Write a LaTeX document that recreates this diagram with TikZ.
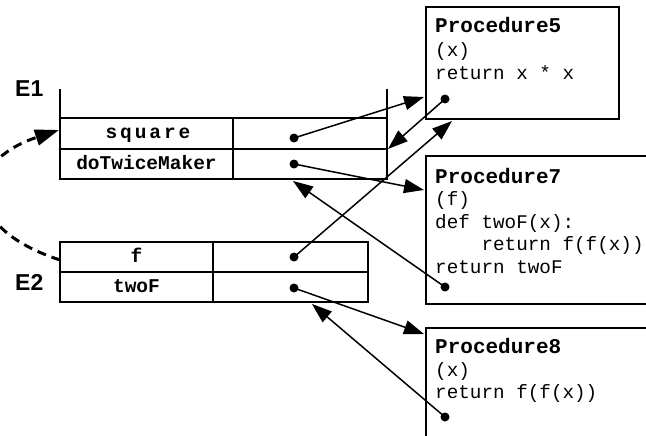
\documentclass[tikz,border=0pt]{standalone}
\usepackage{fontspec}
\setmainfont{Liberation Sans}
\newfontfamily\codefont{Liberation Mono}
\newfontfamily\codebold{Liberation Mono Bold}
\newfontfamily\codeboldwide[LetterSpace=15]{Liberation Mono Bold}
\usetikzlibrary{arrows.meta}
\begin{document}
\begin{tikzpicture}[x=1pt,y=-1pt,
  frame/.style={line width=2pt},
  ptr/.style={line width=1.5pt, -{Triangle[length=20pt,width=14pt]}},
  dashptr/.style={line width=3pt, dash pattern=on 9pt off 6pt, -{Triangle[length=24pt,width=16pt]}},
  dot/.style={circle, fill=black, inner sep=0pt, minimum size=9pt},
  lbl/.style={font={\codebold\fontsize{19.5}{23}\selectfont}, inner sep=0pt, anchor=base},
  codeline/.style={font={\codefont\fontsize{19.3}{23}\selectfont}, anchor=base west, inner sep=0pt},
  codetitle/.style={font={\codebold\fontsize{21}{23}\selectfont}, anchor=base west, inner sep=0pt},
  envlbl/.style={font={\bfseries\fontsize{23}{27}\selectfont}, inner sep=0pt, anchor=base west},
  proc/.style={draw, line width=2pt, anchor=north west, inner sep=0pt}
]
\useasboundingbox (0,0) rectangle (646,436);
\clip (0,0) rectangle (646,436);

% procedure boxes
\node[proc, minimum width=193pt, minimum height=112pt] (p5) at (425,6) {};
\node[proc, minimum width=240pt, minimum height=148pt] (p7) at (425,155) {};
\node[proc, minimum width=240pt, minimum height=140pt] (p8) at (425,327) {};

\node[codetitle] (p5t) at (435,33) {Procedure5};
\node[codeline] (p5a) at (435,57) {(x)};
\node[codeline] (p5b) at (435,80) {return x * x};

\node[codetitle] (p7t) at (435,183) {Procedure7};
\node[codeline] (p7a) at (435,205) {(f)};
\node[codeline] (p7b) at (435,228) {def twoF(x):};
\node[codeline] (p7c) at (435,250) {\phantom{xxxx}return f(f(x))};
\node[codeline] (p7d) at (435,273) {return twoF};

\node[codetitle] (p8t) at (435,353) {Procedure8};
\node[codeline] (p8a) at (435,376) {(x)};
\node[codeline] (p8b) at (435,398) {return f(f(x))};

% frame E1
\draw[frame] (60,89) -- (60,179) -- (387,179) -- (387,89);
\draw[frame] (60,118) -- (387,118);
\draw[frame] (60,149) -- (387,149);
\draw[frame] (233,118) -- (233,179);
\node[envlbl] (e1) at (15,96) {E1};
\node[lbl, font={\codeboldwide\fontsize{19.5}{23}\selectfont}] (lsq) at (148,138.5) {square};
\node[lbl] (ldt) at (146.5,169) {doTwiceMaker};

% frame E2
\draw[frame] (60,242) rectangle (368,302);
\draw[frame] (60,272) -- (368,272);
\draw[frame] (213,242) -- (213,302);
\node[envlbl] (e2) at (15,290) {E2};
\node[lbl] (lf) at (136.5,262) {f};
\node[lbl] (ltw) at (136.5,292) {twoF};

% dots
\node[dot] (dsq) at (294,138) {};
\node[dot] (ddt) at (294,164) {};
\node[dot] (df) at (294,257) {};
\node[dot] (dtw) at (294,288) {};
\node[dot] (dp5) at (445,99) {};
\node[dot] (dp7) at (445,287) {};
\node[dot] (dp8) at (445,417) {};

% targets
\coordinate (tp5l) at (424,97);
\coordinate (te1r) at (388,149);
\coordinate (tp5b) at (452,121);
\coordinate (tp7l) at (424,190);
\coordinate (te1b) at (293,181);
\coordinate (tp8l) at (424,334);
\coordinate (te2b) at (312,304);
\coordinate (e2l) at (60,260);
\coordinate (e1l) at (59,130);

\draw[ptr] (dsq.center) -- (tp5l);
\draw[ptr] (dp5.center) -- (te1r);
\draw[ptr] (df.center) -- (tp5b);
\draw[ptr] (ddt.center) -- (tp7l);
\draw[ptr] (dp7.center) -- (te1b);
\draw[ptr] (dtw.center) -- (tp8l);
\draw[ptr] (dp8.center) -- (te2b);

\draw[dashptr] (e2l) .. controls (-38,228) and (-38,162) .. (e1l);
\end{tikzpicture}
\end{document}
